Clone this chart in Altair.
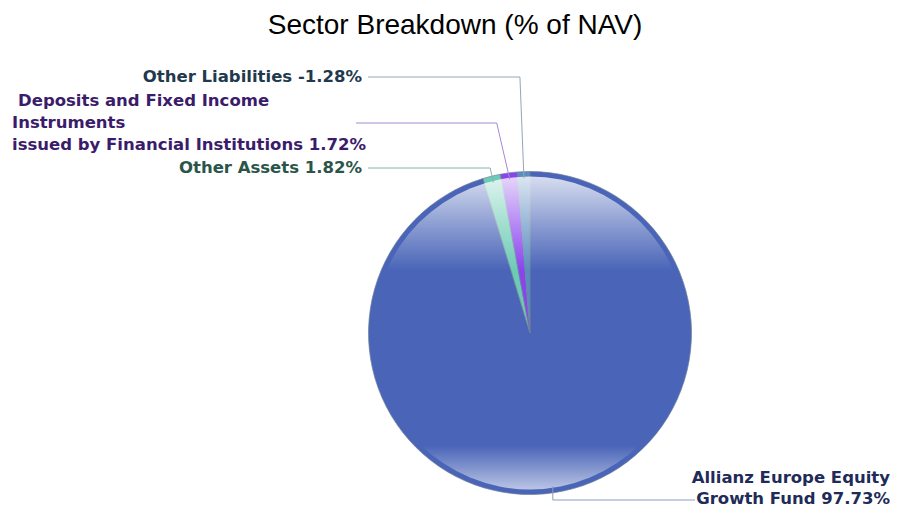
import math
import altair as alt
import pandas as pd

# ---- data ----
sectors = [
    "Allianz Europe Equity Growth Fund",
    "Other Assets",
    "Deposits and Fixed Income Instruments issued by Financial Institutions",
    "Other Liabilities",
]
weights = [97.73, 1.82, 1.72, -1.28]
slice_colors = ["#4a65b8", "#6ccbb5", "#8a44ee", "#5a8dc0"]

# ---- layout ----
W, H = 882, 500
CX, CY, R = 522, 325, 161.5
R_IN = 156.5

pie_df = pd.DataFrame({
    "sector": sectors,
    "weight": weights,
    "order": list(range(len(sectors))),
})

# anchor points on the pie from the data (mid angle of each slice)
absw = [abs(w) for w in weights]
tot = sum(absw)
anchors = []
cum = 0.0
for w in absw:
    mid = (cum + w / 2) / tot * 2 * math.pi
    anchors.append((CX + 155 * math.sin(mid), CY - 155 * math.cos(mid)))
    cum += w

segs = []
def add(a, b, col):
    segs.append({"x": a[0], "y": a[1], "x2": b[0], "y2": b[1], "c": col})

# Allianz
ax, ay = anchors[0]
add((ax, ay), (ax, 492), "#8e9cbd")
add((ax, 492), (687, 492), "#8e9cbd")
# Other Assets
ax, ay = anchors[1]
add((360, 160), (ax - 3, 160), "#86b5ab")
add((ax - 3, 160), (ax, ay), "#86b5ab")
# Deposits
ax, ay = anchors[2]
add((348, 115), (ax - 13, 115), "#a48ad8")
add((ax - 13, 115), (ax, ay), "#a48ad8")
# Other Liabilities
ax, ay = anchors[3]
add((360, 69), (ax - 4, 69), "#93a6b8")
add((ax - 4, 69), (ax, ay), "#93a6b8")
seg_df = pd.DataFrame(segs)

xs = alt.Scale(domain=[0, W], range=[0, W])
ys = alt.Scale(domain=[0, H], range=[0, H])

base_pie = alt.Chart(pie_df).transform_calculate(
    aw="abs(datum.weight)"
).mark_arc(radius=R, stroke="#6f7f99", strokeWidth=0.7).encode(
    theta=alt.Theta("aw:Q", stack=True),
    order=alt.Order("order:Q"),
    color=alt.Color("sector:N", scale=alt.Scale(domain=sectors, range=slice_colors), legend=None),
    x=alt.value(CX),
    y=alt.value(CY),
)

grad = alt.Gradient(
    gradient="linear",
    x1=0, y1=0, x2=0, y2=1,
    stops=[
        alt.GradientStop(color="rgba(255,255,255,0.78)", offset=0),
        alt.GradientStop(color="rgba(255,255,255,0.35)", offset=0.16),
        alt.GradientStop(color="rgba(255,255,255,0)", offset=0.30),
        alt.GradientStop(color="rgba(255,255,255,0)", offset=0.86),
        alt.GradientStop(color="rgba(255,255,255,0.3)", offset=0.93),
        alt.GradientStop(color="rgba(255,255,255,0.62)", offset=1),
    ],
)
overlay = alt.Chart(alt.Data(values=[{"a": 1}])).mark_arc(
    radius=R_IN, theta=0, theta2=2 * math.pi, color=grad
).encode(x=alt.value(CX), y=alt.value(CY))

rules = alt.Chart(seg_df).mark_rule(strokeWidth=1).encode(
    x=alt.X("x:Q", scale=xs, axis=None),
    y=alt.Y("y:Q", scale=ys, axis=None),
    x2="x2:Q",
    y2="y2:Q",
    color=alt.Color("c:N", scale=None, legend=None),
)

one = alt.Data(values=[{"a": 1}])
FONT = "DejaVu Sans"

def label(txt, x, y, align, col):
    return alt.Chart(one).mark_text(
        text=txt, font=FONT, fontSize=16.5, fontWeight="bold", align=align,
        baseline="middle", color=col
    ).encode(x=alt.value(x), y=alt.value(y))

title = alt.Chart(one).mark_text(
    text="Sector Breakdown (% of NAV)", font="Liberation Sans", fontSize=28,
    align="center", baseline="middle", color="#000000"
).encode(x=alt.value(447), y=alt.value(18))

labels = [
    label("Other Liabilities -1.28%", 354, 69, "right", "#22394d"),
    label("Deposits and Fixed Income", 10, 93, "left", "#3b1c6b"),
    label("Instruments", 4, 115, "left", "#3b1c6b"),
    label("issued by Financial Institutions 1.72%", 4, 137, "left", "#3b1c6b"),
    label("Other Assets 1.82%", 354, 160, "right", "#2a5548"),
    label("Allianz Europe Equity", 882, 470, "right", "#1f2b58"),
    label("Growth Fund 97.73%", 882, 491, "right", "#1f2b58"),
]

chart = alt.layer(base_pie, overlay, rules, title, *labels).properties(
    width=W, height=H, padding=0, autosize="none"
).configure_view(stroke=None)

chart.save("out.html", embed_options={"renderer": "svg", "actions": False})
